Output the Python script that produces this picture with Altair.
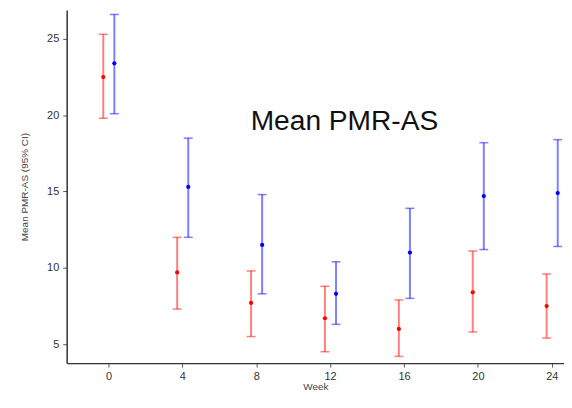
import altair as alt
import pandas as pd

weeks = [0, 4, 8, 12, 16, 20, 24]
groups = ["Arm 1", "Arm 2"]
mean_1 = [22.5, 9.7, 7.7, 6.7, 6.0, 8.4, 7.5]
low_1 = [19.8, 7.3, 5.5, 4.5, 4.2, 5.8, 5.4]
high_1 = [25.3, 12.0, 9.8, 8.8, 7.9, 11.1, 9.6]
mean_2 = [23.4, 15.3, 11.5, 8.3, 11.0, 14.7, 14.9]
low_2 = [20.1, 12.0, 8.3, 6.3, 8.0, 11.2, 11.4]
high_2 = [26.6, 18.5, 14.8, 10.4, 13.9, 18.2, 18.4]

rows = []
for g, m, lo, hi in [(groups[0], mean_1, low_1, high_1), (groups[1], mean_2, low_2, high_2)]:
    for w, a, b, c in zip(weeks, m, lo, hi):
        rows.append({"week": w, "group": g, "mean": a, "low": b, "high": c})
df = pd.DataFrame(rows)

color = alt.Color("group:N", scale=alt.Scale(domain=groups, range=["#ff0000", "#0000ff"]), legend=None)
xs = alt.Scale(domain=[-2.26, 24.66], nice=False, zero=False)
ys = alt.Scale(domain=[3.76, 26.89], nice=False, zero=False)

base = alt.Chart(df).transform_calculate(
    xpos="datum.week + (datum.group == 'Arm 1' ? -0.28 : 0.32)"
)

xenc = alt.X("xpos:Q", scale=xs, title="Week",
             axis=alt.Axis(values=weeks, grid=False, domainColor="#333", domainWidth=1.5,
                           tickColor="#555", tickSize=4, labelFontSize=11, labelColor="#333",
                           labelFont="Liberation Sans", labelPadding=3,
                           titleFont="Liberation Sans", titleFontSize=10, titleFontWeight="normal",
                           titleColor="#444", titlePadding=1))
yenc = alt.Y("mean:Q", scale=ys, title="Mean PMR-AS (95% CI)",
             axis=alt.Axis(values=[5, 10, 15, 20, 25], grid=False, domainColor="#333", domainWidth=1.5,
                           tickColor="#555", tickSize=4, labelFontSize=11, labelColor="#333",
                           labelFont="Liberation Sans", labelPadding=4,
                           titleFont="Liberation Sans", titleFontSize=10, titleFontWeight="normal",
                           titleColor="#444", titlePadding=17))

rules = base.mark_rule(strokeWidth=2, opacity=0.5).encode(
    x=xenc, y=alt.Y("low:Q", scale=ys), y2="high:Q", color=color)
caps_hi = base.mark_tick(orient="horizontal", size=9, thickness=1.5, opacity=0.5).encode(
    x="xpos:Q", y=alt.Y("high:Q", scale=ys), color=color)
caps_lo = base.mark_tick(orient="horizontal", size=9, thickness=1.5, opacity=0.5).encode(
    x="xpos:Q", y=alt.Y("low:Q", scale=ys), color=color)
points = base.mark_circle(size=18, opacity=1).encode(x="xpos:Q", y=yenc, color=color)

title = alt.Chart(pd.DataFrame({"t": ["Mean PMR-AS"]})).mark_text(
    align="left", baseline="alphabetic", fontSize=28.3, font="Liberation Sans", color="#111"
).encode(text="t:N", x=alt.value(185), y=alt.value(121))

chart = alt.layer(rules, caps_hi, caps_lo, points, title).properties(
    width=500, height=355,
    autosize=alt.AutoSizeParams(type="none"),
    padding={"left": 59, "top": 1, "right": 0, "bottom": 30},
).configure_view(stroke=None)

chart.save("out.html", embed_options={"renderer": "svg", "actions": False})
